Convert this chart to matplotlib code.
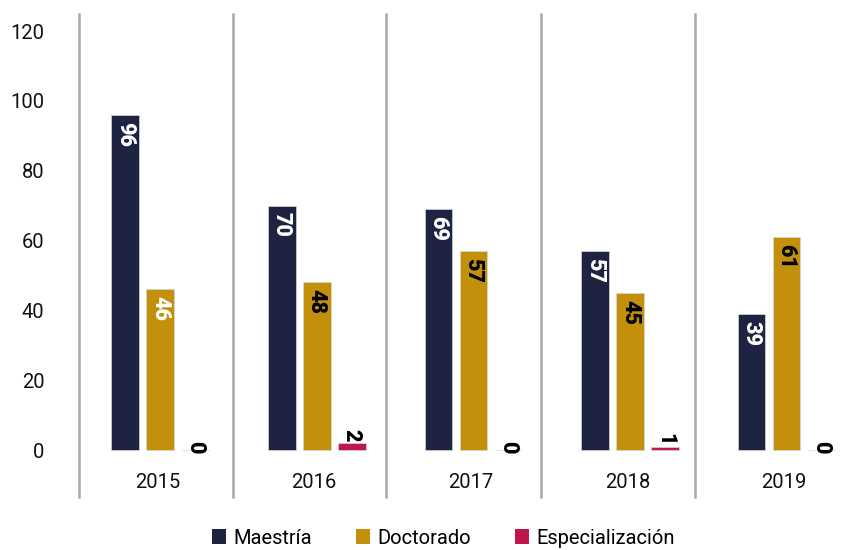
import matplotlib
matplotlib.use("Agg")
import matplotlib.pyplot as plt
from matplotlib.patches import Patch
import numpy as np

years = ["2015", "2016", "2017", "2018", "2019"]
series_names = ["Maestría", "Doctorado", "Especialización"]
maestria = [96, 70, 69, 57, 39]
doctorado = [46, 48, 57, 45, 61]
especializacion = [0, 2, 0, 1, 0]
colors = ["#1e2341", "#c2900a", "#c0174a"]
yticks = [0, 20, 40, 60, 80, 100, 120]

W, H = 845, 550
fig = plt.figure(figsize=(W / 100, H / 100), dpi=100)
ax = fig.add_axes([79 / W, 0, 1 - 79 / W, 1])

px_per_unit_y = 3.49
ax.set_ylim(-(H - 450) / px_per_unit_y, 450 / px_per_unit_y)
ax.set_xlim((79 - 157.5) / 156.6, (845 - 157.5) / 156.6)

font = "Roboto"
label_font = "Roboto"
lab_kw = dict(fontsize=15.5, fontweight="heavy", family=label_font, zorder=4)

x = np.arange(len(years))
width = 0.176
step = 0.2235
shift = 0.017
data = [maestria, doctorado, especializacion]
for i, (vals, col) in enumerate(zip(data, colors)):
    xs = x + shift + (i - 1) * step
    ax.bar(xs, vals, width=width, color=col, edgecolor="#d6d6de", linewidth=0.5, zorder=3)
    for j, (xx, v) in enumerate(zip(xs, vals)):
        if i == 2:
            if v > 0:
                ax.text(xx, v + 0.3, str(v), rotation=-90, ha="center", va="bottom",
                        color="black", **lab_kw)
            else:
                ax.text(xx, v + 0.8, str(v), rotation=-90, ha="center", va="center",
                        color="black", **lab_kw)
        else:
            if i == 0 or (i == 1 and j == 0):
                tc = "white"
            else:
                tc = "black"
            ax.text(xx, v - 1.9, str(v), rotation=-90, ha="center", va="top",
                    color=tc, **lab_kw)

# category separators
sep_pos = [-0.5, 0.48, 1.46, 2.45, 3.43]
for s in sep_pos:
    ax.plot([s, s], [(450 - 498) / px_per_unit_y, (450 - 13) / px_per_unit_y],
            color="#a6a6a6", linewidth=1.8, solid_capstyle="butt", zorder=2, clip_on=False)

# year labels
for xx, yr in zip(x, years):
    ax.text(xx, (450 - 483) / px_per_unit_y, yr, ha="center", va="center",
            fontsize=14.5, family=font, color="#111111")

ax.set_yticks(yticks)
ax.set_yticklabels([str(t) for t in yticks], fontsize=14.5, family=font, color="#111111")
ax.tick_params(axis="y", length=0, pad=25)
ax.set_xticks([])
for sp in ax.spines.values():
    sp.set_visible(False)

handles = [Patch(facecolor=c, edgecolor="none", label=n) for c, n in zip(colors, series_names)]
fig.legend(handles=handles, loc="center", bbox_to_anchor=(443.5 / W, 1 - 538 / H), ncol=3,
           frameon=False, prop={"family": font, "size": 14.5}, handlelength=0.7, handleheight=0.7,
           handletextpad=0.36, columnspacing=2.2, borderpad=0, borderaxespad=0)

fig.savefig("out.png", dpi=100)
